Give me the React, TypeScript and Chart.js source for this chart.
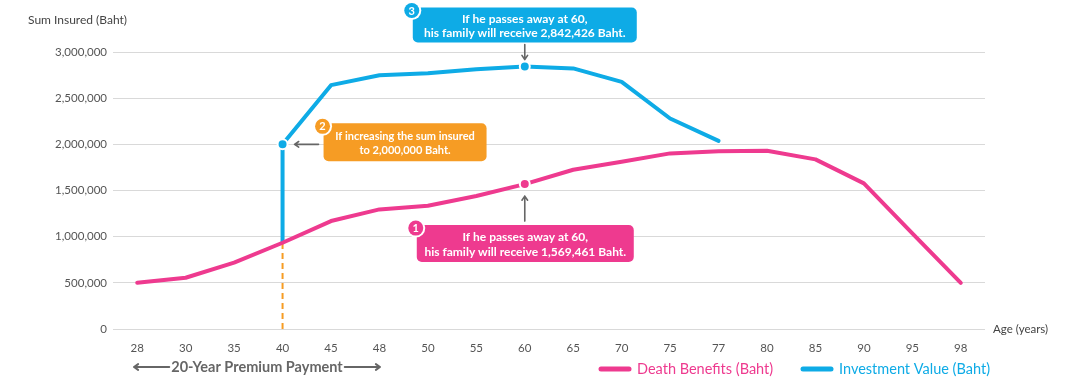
import React, { useEffect, useRef } from 'react';
import { Chart, registerables } from 'chart.js';

Chart.register(...registerables);

const ages = ['28', '30', '35', '40', '45', '48', '50', '55', '60', '65', '70', '75', '77', '80', '85', '90', '95', '98'];
const deathBenefits = [500000, 555000, 718000, 934000, 1169000, 1295000, 1334000, 1440000, 1569461, 1725000, 1811000, 1902000, 1926000, 1930000, 1837000, 1577000, 1036000, 500000];
const investmentValue = [null, null, null, 2000000, 2641000, 2749000, 2770000, 2814000, 2842426, 2822000, 2676000, 2280000, 2038000, null, null, null, null, null];
const yTicks = [0, 500000, 1000000, 1500000, 2000000, 2500000, 3000000];
const increaseAge = '40';
const increasedSum = 2000000;
const highlightAge = '60';

const PINK = '#ee3a8f';
const BLUE = '#0eabe6';
const ORANGE = '#f69c24';
const GRAY = '#666666';
const FONT = 'Lato, "Noto Sans", sans-serif';

function drawArrow(ctx: CanvasRenderingContext2D, x1: number, y1: number, x2: number, y2: number, color: string, lw: number, head: number) {
  const a = Math.atan2(y2 - y1, x2 - x1);
  ctx.save();
  ctx.strokeStyle = color;
  ctx.lineWidth = lw;
  ctx.lineCap = 'round';
  ctx.lineJoin = 'round';
  ctx.beginPath();
  ctx.moveTo(x1, y1);
  ctx.lineTo(x2, y2);
  ctx.moveTo(x2 - head * Math.cos(a - 0.6), y2 - head * Math.sin(a - 0.6));
  ctx.lineTo(x2, y2);
  ctx.lineTo(x2 - head * Math.cos(a + 0.6), y2 - head * Math.sin(a + 0.6));
  ctx.stroke();
  ctx.restore();
}

function drawCallout(ctx: CanvasRenderingContext2D, left: number, top: number, w: number, h: number, color: string, lines: string[], badge: string, fs: number) {
  ctx.save();
  ctx.fillStyle = color;
  ctx.beginPath();
  (ctx as any).roundRect(left, top, w, h, 5);
  ctx.fill();
  ctx.fillStyle = '#ffffff';
  ctx.font = `bold ${fs}px ${FONT}`;
  ctx.textAlign = 'center';
  ctx.textBaseline = 'middle';
  const cx = left + w / 2;
  const lh = h / (lines.length + 0.6);
  lines.forEach((l, i) => {
    ctx.fillText(l, cx, top + lh * 0.8 + lh * i + 1);
  });
  // badge
  const bx = left - 1;
  const by = top + 3;
  ctx.beginPath();
  ctx.arc(bx, by, 9.5, 0, Math.PI * 2);
  ctx.fillStyle = '#ffffff';
  ctx.fill();
  ctx.beginPath();
  ctx.arc(bx, by, 7.5, 0, Math.PI * 2);
  ctx.fillStyle = color;
  ctx.fill();
  ctx.fillStyle = '#ffffff';
  ctx.font = `bold 11px ${FONT}`;
  ctx.fillText(badge, bx, by + 0.5);
  ctx.restore();
}

const annotations = {
  id: 'annotations',
  afterDatasetsDraw(chart: any) {
    const ctx: CanvasRenderingContext2D = chart.ctx;
    const xs = chart.scales.x;
    const ys = chart.scales.y;
    const area = chart.chartArea;
    const iInc = ages.indexOf(increaseAge);
    const iHi = ages.indexOf(highlightAge);

    // callout 3 (investment at 60)
    const ax3 = xs.getPixelForValue(iHi);
    const ay3 = ys.getPixelForValue(investmentValue[iHi] as number);
    drawArrow(ctx, ax3, ay3 - 22, ax3, ay3 - 7, GRAY, 1.6, 5);
    drawCallout(ctx, ax3 - 112, ay3 - 59, 224, 35, BLUE, ['If he passes away at 60,', `his family will receive ${(investmentValue[iHi] as number).toLocaleString('en-US')} Baht.`], '3', 12);

    // callout 2 (increase sum insured at 40)
    const ax2 = xs.getPixelForValue(iInc);
    const ay2 = ys.getPixelForValue(increasedSum);
    drawArrow(ctx, ax2 + 36, ay2, ax2 + 12, ay2, GRAY, 1.6, 5);
    drawCallout(ctx, ax2 + 41, ay2 - 21, 163, 38, ORANGE, ['If increasing the sum insured', `to ${increasedSum.toLocaleString('en-US')} Baht.`], '2', 11);

    // callout 1 (death benefit at 60)
    const ax1 = xs.getPixelForValue(iHi);
    const ay1 = ys.getPixelForValue(deathBenefits[iHi]);
    drawArrow(ctx, ax1, ay1 + 37, ax1, ay1 + 12, GRAY, 1.6, 5);
    drawCallout(ctx, ax1 - 108, ay1 + 41, 217, 37, PINK, ['If he passes away at 60,', `his family will receive ${deathBenefits[iHi].toLocaleString('en-US')} Baht.`], '1', 12);

    ctx.save();
    // axis titles
    ctx.fillStyle = '#444';
    ctx.textAlign = 'left';
    ctx.textBaseline = 'middle';
    ctx.font = `12px ${FONT}`;
    ctx.fillText('Sum Insured (Baht)', 28, 20);
    ctx.font = `11.5px ${FONT}`;
    ctx.fillText('Age (years)', area.right + 8, area.bottom);

    // premium payment
    const ppY = 367;
    ctx.fillStyle = GRAY;
    ctx.font = `bold 14.5px ${FONT}`;
    ctx.textAlign = 'center';
    const ppText = '20-Year Premium Payment';
    const ppX = 257;
    ctx.fillText(ppText, ppX, ppY);
    const tw = ctx.measureText(ppText).width;
    drawArrow(ctx, ppX - tw / 2 - 2, ppY, 134, ppY, GRAY, 2, 5);
    drawArrow(ctx, ppX + tw / 2 + 2, ppY, 380, ppY, GRAY, 2, 5);

    // legend
    const lgY = 369;
    const items = [
      { color: PINK, text: 'Death Benefits (Baht)', x: 601 },
      { color: BLUE, text: 'Investment Value (Baht)', x: 803 },
    ];
    ctx.textAlign = 'left';
    ctx.font = `14.5px ${FONT}`;
    items.forEach((it) => {
      ctx.strokeStyle = it.color;
      ctx.lineWidth = 5;
      ctx.lineCap = 'round';
      ctx.beginPath();
      ctx.moveTo(it.x, lgY);
      ctx.lineTo(it.x + 28, lgY);
      ctx.stroke();
      ctx.fillStyle = it.color;
      ctx.fillText(it.text, it.x + 36, lgY);
    });
    ctx.restore();
  },
};

export default function App() {
  const ref = useRef<HTMLCanvasElement>(null);
  useEffect(() => {
    if (!ref.current) return;
    const iInc = ages.indexOf(increaseAge);
    const iHi = ages.indexOf(highlightAge);
    const chart = new Chart(ref.current, {
      type: 'line',
      data: {
        labels: ages,
        datasets: [
          {
            label: 'Death Benefits (Baht)',
            data: deathBenefits,
            borderColor: PINK,
            backgroundColor: PINK,
            borderWidth: 4,
            tension: 0,
            borderCapStyle: 'round',
            borderJoinStyle: 'round',
            pointRadius: ages.map((_, i) => (i === iHi ? 5 : 0)),
            pointBackgroundColor: PINK,
            pointBorderColor: '#ffffff',
            pointBorderWidth: 2,
          } as any,
          {
            label: 'Investment Value (Baht)',
            data: investmentValue,
            borderColor: BLUE,
            backgroundColor: BLUE,
            borderWidth: 4,
            tension: 0,
            borderCapStyle: 'round',
            borderJoinStyle: 'round',
            spanGaps: false,
            pointRadius: ages.map((_, i) => (i === iHi || i === iInc ? 5 : 0)),
            pointBackgroundColor: BLUE,
            pointBorderColor: '#ffffff',
            pointBorderWidth: 2,
          } as any,
          {
            label: 'jump',
            data: [
              { x: increaseAge, y: deathBenefits[iInc] },
              { x: increaseAge, y: increasedSum },
            ],
            borderColor: BLUE,
            borderWidth: 4,
            pointRadius: 0,
            borderCapStyle: 'butt',
          } as any,
          {
            label: 'start',
            data: [
              { x: increaseAge, y: 0 },
              { x: increaseAge, y: deathBenefits[iInc] },
            ],
            borderColor: ORANGE,
            borderWidth: 2,
            borderDash: [6, 4],
            pointRadius: 0,
          } as any,
        ],
      },
      options: {
        animation: false,
        responsive: false,
        layout: { padding: { top: 52, right: 82, left: 0, bottom: 0 } },
        plugins: { legend: { display: false }, tooltip: { enabled: false } },
        scales: {
          x: {
            type: 'category',
            offset: true,
            grid: { display: false, drawTicks: false },
            border: { display: false },
            ticks: { color: '#555', font: { family: FONT, size: 11.5 }, padding: 12, autoSkip: false, maxRotation: 0 },
            afterFit: (s: any) => { s.height = 60; },
          },
          y: {
            min: 0,
            max: 3000000,
            afterBuildTicks: (s: any) => { s.ticks = yTicks.map((v) => ({ value: v })); },
            grid: { color: '#d9d9d9', lineWidth: 1, drawTicks: false },
            border: { display: false },
            ticks: {
              color: '#555',
              font: { family: FONT, size: 11.5 },
              padding: 6,
              callback: (v: any) => Number(v).toLocaleString('en-US'),
            },
            afterFit: (s: any) => { s.width = 113; },
          },
        },
      } as any,
      plugins: [annotations],
    });
    return () => chart.destroy();
  }, []);
  return (
    <div style={{ position: 'fixed', left: 0, top: 0, width: 1067, height: 389, background: '#fff' }}>
      <canvas ref={ref} width={1067} height={389} style={{ display: 'block', width: 1067, height: 389 }} />
    </div>
  );
}
